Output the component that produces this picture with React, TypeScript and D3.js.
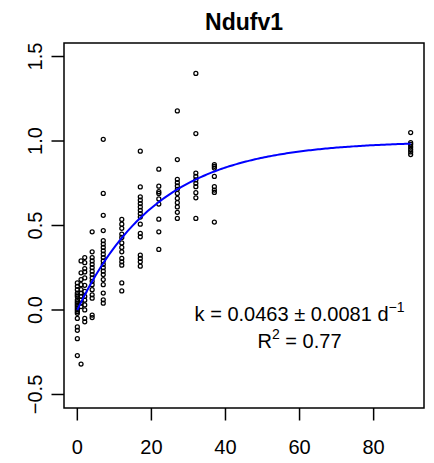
import React from "react";
import * as d3 from "d3";

const title = "Ndufv1";
const timePoints = [0, 1, 2, 4, 7, 12, 17, 22, 27, 32, 37, 90];
const obs0 = [0.16, 0.14, 0.12, 0.1, 0.09, 0.08, 0.06, 0.05, 0.04, 0.03, 0.02, 0.01, 0.0, -0.01, -0.02, -0.05, -0.1, -0.12, -0.17, -0.27];
const obs1 = [0.29, 0.22, 0.18, 0.15, 0.12, 0.1, 0.08, 0.06, 0.04, 0.02, -0.32];
const obs2 = [0.31, 0.28, 0.245, 0.225, 0.19, 0.146, 0.11, 0.08, 0.058, 0.03, 0.0, -0.05, -0.07];
const obs4 = [0.463, 0.344, 0.31, 0.29, 0.27, 0.25, 0.23, 0.21, 0.19, 0.17, 0.15, 0.12, 0.09, 0.07, -0.03, -0.045];
const obs7 = [1.01, 0.69, 0.56, 0.47, 0.41, 0.39, 0.37, 0.35, 0.33, 0.31, 0.29, 0.27, 0.25, 0.23, 0.21, 0.18, 0.15, 0.1, 0.06, 0.04];
const obs12 = [0.536, 0.508, 0.483, 0.449, 0.429, 0.397, 0.37, 0.344, 0.305, 0.285, 0.265, 0.16, 0.113];
const obs17 = [0.94, 0.728, 0.67, 0.65, 0.63, 0.61, 0.59, 0.57, 0.55, 0.508, 0.453, 0.433, 0.324, 0.305, 0.285, 0.259];
const obs22 = [0.833, 0.733, 0.7, 0.69, 0.657, 0.627, 0.537, 0.463, 0.358];
const obs27 = [1.178, 0.89, 0.773, 0.753, 0.734, 0.714, 0.69, 0.66, 0.635, 0.61, 0.578, 0.542];
const obs32 = [1.4, 1.044, 0.81, 0.79, 0.77, 0.75, 0.73, 0.694, 0.664, 0.542];
const obs37 = [0.86, 0.85, 0.84, 0.79, 0.73, 0.71, 0.696, 0.52];
const obs90 = [1.05, 0.99, 0.98, 0.965, 0.95, 0.935, 0.92];
const observed = [obs0, obs1, obs2, obs4, obs7, obs12, obs17, obs22, obs27, obs32, obs37, obs90];

const xTicks = [0, 20, 40, 60, 80];
const yTicks = [-0.5, 0, 0.5, 1.0, 1.5];
const yTickLabels = ["\u22120.5", "0.0", "0.5", "1.0", "1.5"];
const rateK = 0.0463;
const rateSE = 0.0081;
const rSquared = 0.77;

export default function App() {
  const W = 434, H = 463;
  const left = 64, right = 424, top = 43, bottom = 408;
  const x = d3.scaleLinear().domain([-3.6, 93.6]).range([left, right]);
  const y = d3.scaleLinear().domain([-0.58, 1.58]).range([bottom, top]);

  const points: { t: number; v: number }[] = [];
  observed.forEach((arr, i) => arr.forEach((v) => points.push({ t: timePoints[i], v })));

  const curveT = d3.range(0, 90.01, 0.5);
  const line = d3
    .line<number>()
    .x((t) => x(t))
    .y((t) => y(1 - Math.exp(-rateK * t)));

  const font = "'Liberation Sans', Arial, Helvetica, sans-serif";
  const tx = x(60);

  return (
    <svg
      width={W}
      height={H}
      style={{ position: "absolute", left: 0, top: 0, background: "#fff" }}
      fontFamily={font}
    >
      <rect x={0} y={0} width={W} height={H} fill="#fff" />
      <text x={(left + right) / 2} y={30} textAnchor="middle" fontWeight="bold" fontSize={23}>
        {title}
      </text>
      <rect x={left} y={top} width={right - left} height={bottom - top} fill="none" stroke="#000" strokeWidth={1.5} />
      {xTicks.map((t) => (
        <g key={"xt" + t}>
          <line x1={x(t)} x2={x(t)} y1={bottom} y2={bottom + 12.5} stroke="#000" strokeWidth={1.5} />
          <text x={x(t)} y={454} textAnchor="middle" fontSize={20}>
            {t}
          </text>
        </g>
      ))}
      {yTicks.map((v, i) => (
        <g key={"yt" + v}>
          <line x1={left - 12.5} x2={left} y1={y(v)} y2={y(v)} stroke="#000" strokeWidth={1.5} />
          <text
            transform={`translate(42,${y(v)}) rotate(-90)`}
            textAnchor="middle"
            fontSize={20}
          >
            {yTickLabels[i]}
          </text>
        </g>
      ))}
      {points.map((p, i) => (
        <circle key={i} cx={x(p.t)} cy={y(p.v)} r={2} fill="none" stroke="#000" strokeWidth={1.25} />
      ))}
      <path d={line(curveT) || ""} fill="none" stroke="#0000ff" strokeWidth={2} />
      <text x={tx} y={321} textAnchor="middle" fontSize={20}>
        {`k = ${rateK.toFixed(4)} \u00b1 ${rateSE.toFixed(4)} d`}
        <tspan fontSize={14} dy={-9}>{"\u22121"}</tspan>
      </text>
      <text x={tx} y={348} textAnchor="middle" fontSize={20}>
        R<tspan fontSize={14} dy={-9}>2</tspan>
        <tspan dy={9}>{` = ${rSquared.toFixed(2)}`}</tspan>
      </text>
    </svg>
  );
}
